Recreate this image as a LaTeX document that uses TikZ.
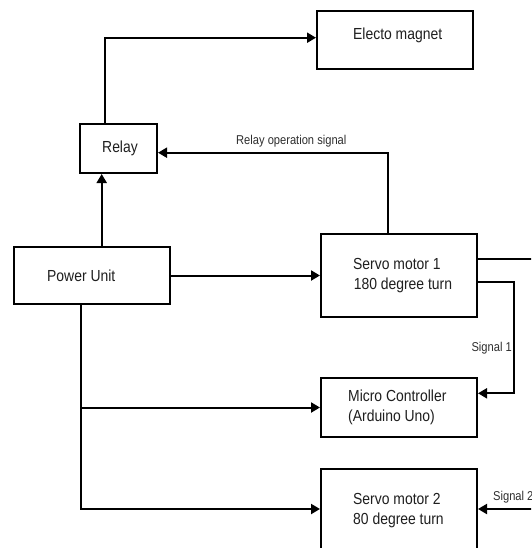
\documentclass[tikz,border=0pt]{standalone}
\usepackage{fontspec}
\setmainfont{Liberation Sans}[FakeStretch=0.87]
\usetikzlibrary{arrows.meta}
\begin{document}
\begin{tikzpicture}[x=1pt,y=-1pt,
  box/.style={draw=black, line width=2pt, inner sep=0pt},
  txt/.style={inner sep=0pt, align=left, anchor=base west, font=\fontsize{16}{19.5}\selectfont, text=black!88},
  conn/.style={line width=2pt},
  arr/.style={conn, -{Triangle[length=9pt,width=10pt]}},
  lbl/.style={inner sep=0pt, anchor=base west, font=\fontsize{12.8}{15}\selectfont, text=black!82}]
\useasboundingbox (0,0) rectangle (531,548);
\fill[white] (0,0) rectangle (531,548);
\begin{scope}
\clip (0,0) rectangle (531,548);
% boxes
\node[box, minimum width=156pt, minimum height=58pt] (magnet) at (395,40) {};
\node[box, minimum width=77pt, minimum height=49pt] (relay) at (118.5,148.5) {};
\node[box, minimum width=156pt, minimum height=57pt] (power) at (92,275.5) {};
\node[box, minimum width=156pt, minimum height=83pt] (servo1) at (399,275.5) {};
\node[box, minimum width=156pt, minimum height=59pt] (micro) at (399,407.5) {};
\node[box, minimum width=156pt, minimum height=83pt] (servo2) at (399,510.5) {};
% texts (multi-line nodes: base = last line)
\node[txt] (tmagnet) at (353,40) {Electo magnet};
\node[txt] (trelay) at (102,152.5) {Relay};
\node[txt] (tpower) at (47,281.7) {Power Unit};
\node[txt] (tservo1) at (353,289.3) {Servo motor 1\\\hspace*{0.6pt}180 degree turn};
\node[txt] (tmicro) at (348,421) {Micro Controller\\(Arduino Uno)};
\node[txt] (tservo2) at (353,524) {Servo motor 2\\80 degree turn};
% helper coordinates
\coordinate (rx) at (105,0);
\coordinate (my) at (0,37.7);
\coordinate (px) at (101.7,0);
\coordinate (ox) at (388.3,0);
\coordinate (oy) at (0,152.7);
\coordinate (exit1) at (540,259);
\coordinate (s1) at (514,281.7);
\coordinate (s1b) at (514,393.3);
\coordinate (tk) at (81,509);
\coordinate (in2) at (540,509);
% connectors
\draw[arr] (relay.north -| rx) |- (magnet.west |- my);
\draw[arr] (power.north -| px) -- (relay.south -| px);
\draw[arr] (servo1.north -| ox) |- (relay.east |- oy);
\draw[arr] (power.east) -- (servo1.west);
\draw[conn] (servo1.east |- exit1) -- (exit1);
\draw[arr] (servo1.east |- s1) -- (s1) -- (s1b) -- (micro.east |- s1b);
\draw[arr] (power.south -| tk) -- (tk) -- (servo2.west |- tk);
\draw[arr] (tk |- micro.west) -- (micro.west);
\draw[arr] (in2) -- (servo2.east |- in2);
% labels
\node[lbl] (lrel) at (236,145) {Relay operation signal};
\node[lbl, anchor=base east] (lsig1) at (512,351.7) {Signal 1};
\node[lbl] (lsig2) at (493,500.5) {Signal 2};
\end{scope}
\end{tikzpicture}
\end{document}
